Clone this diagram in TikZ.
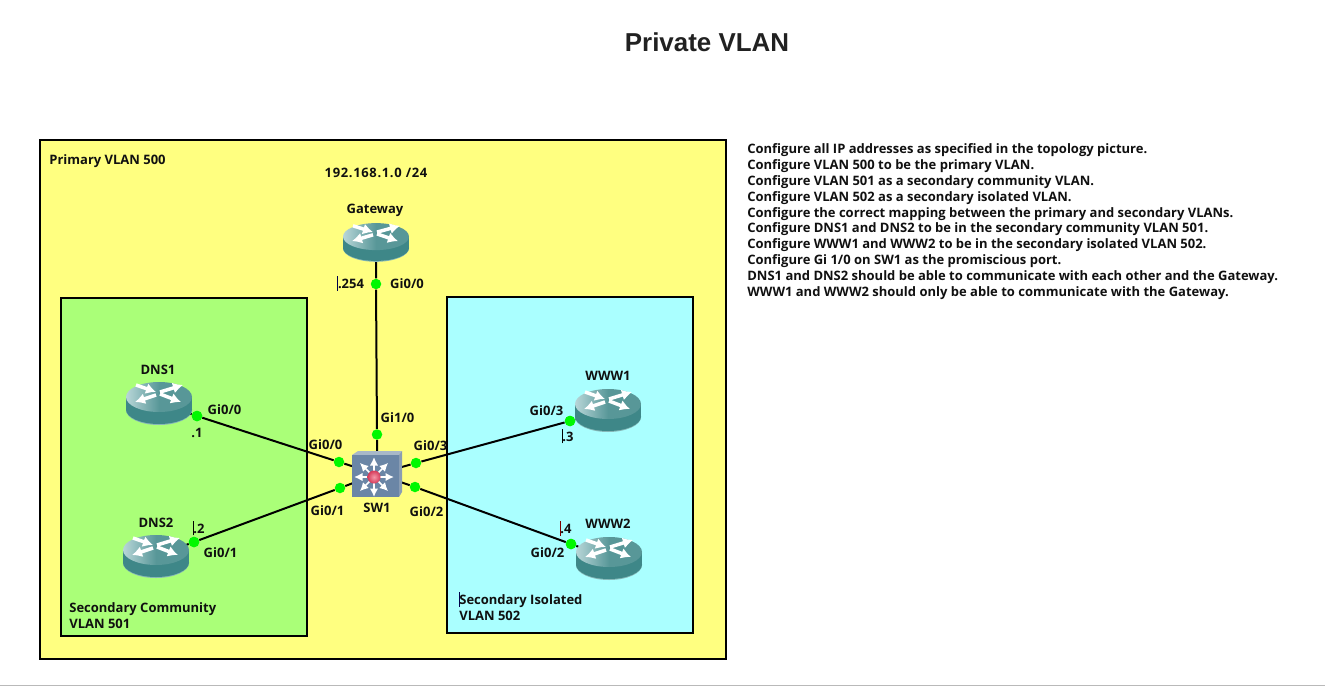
\documentclass[tikz,border=0pt]{standalone}
\usepackage{fontspec}
\setmainfont{Open Sans}
\newfontfamily\titlefont{Liberation Sans}
\usepackage{xcolor}
\usetikzlibrary{arrows.meta}
\definecolor{primaryfill}{HTML}{FFFF80}
\definecolor{communityfill}{HTML}{AAFF78}
\definecolor{isolatedfill}{HTML}{AAFFFF}
\definecolor{routertop}{HTML}{589798}
\definecolor{routerlight}{HTML}{B8D6D8}
\definecolor{routerside}{HTML}{3E8788}
\definecolor{routerrim}{HTML}{86B8B8}
\definecolor{switchfront}{HTML}{6B86A6}
\definecolor{switchtop}{HTML}{A8B8C8}
\definecolor{switchside}{HTML}{8A9DB3}
\definecolor{ballouter}{HTML}{D63A5A}
\definecolor{ballinner}{HTML}{F498A8}
\definecolor{portgreen}{HTML}{00F800}
\definecolor{textdark}{HTML}{101010}
\pgfdeclarehorizontalshading{routershade}{100bp}{color(0bp)=(routerlight); color(25bp)=(routerlight); color(50bp)=(routertop); color(100bp)=(routertop)}
\newcommand{\cursorbar}[1]{\llap{\textcolor{#1}{\rule[-1.2pt]{0.35pt}{8.5pt}}}}
\tikzset{
    vlanbox/.style={draw=black, line width=0.04cm},
    link/.style={draw=black, line width=0.04cm},
    port/.style={circle, fill=portgreen, inner sep=0pt, minimum size=0.21cm},
    anchorpt/.style={inner sep=0pt, minimum size=0pt},
    lbl/.style={font=\fontsize{7.4}{9.07}\selectfont\bfseries, text=textdark, inner sep=0pt},
    rarrow/.style={white, line width=0.07cm, -{Latex[length=0.2cm,width=0.22cm]}},
    sarrow/.style={white, line width=0.035cm, -{Latex[length=0.17cm,width=0.17cm]}},
    router/.pic={
        \fill[routerrim] (0,7) ellipse [x radius=33, y radius=15];
        \fill[routerside] (0,6.5) ellipse [x radius=33, y radius=14.5];
        \fill[routerside] (-33,-6) rectangle (33,6.5);
        \shade[shading=routershade] (0,-6) ellipse [x radius=33, y radius=15];
        \draw[rarrow] (-23,-18) -- (-3,-11);
        \draw[rarrow] (1,-11) -- (24,-18);
        \draw[rarrow] (-3,-8) -- (-24,-1);
        \draw[rarrow] (1,-9) -- (22,-1);
    },
    switchicon/.pic={
        \fill[switchtop] (-22,-22) -- (-16,-26) -- (28,-26) -- (25,-22) -- cycle;
        \fill[switchside] (25,-22) -- (28,-26) -- (28,15) -- (25,20) -- cycle;
        \fill[switchfront] (-22,-22) rectangle (25,20);
        \foreach \a in {0,45,...,315}
            \draw[sarrow] (\a:5) -- (\a:20);
        \shade[inner color=ballinner, outer color=ballouter] (0,0) circle [radius=6.5];
    },
}
\begin{document}
\begin{tikzpicture}[x=0.02cm, y=-0.02cm]
\useasboundingbox (0,0) rectangle (1325,686);
\node[font=\titlefont\fontsize{14.75}{16}\selectfont\bfseries, text=black!87, inner sep=0pt] (title) at (707,42) {Private VLAN};

% VLAN areas
\draw[vlanbox, fill=primaryfill] (40,140) rectangle (726,659);
\draw[vlanbox, fill=communityfill] (61,298) rectangle (307,636);
\draw[vlanbox, fill=isolatedfill] (447,297) rectangle (693,633);

% Devices
\node[anchorpt] (gateway) at (376,242) {};
\node[anchorpt] (dns1) at (159,403) {};
\node[anchorpt] (dns2) at (156,556) {};
\node[anchorpt] (www1) at (608,410) {};
\node[anchorpt] (www2) at (609,558) {};
\node[anchorpt] (sw1) at (377,474) {};

% Ports
\node[port] (gwport) at (376,284) {};
\node[port] (swtop) at (377,434.5) {};
\node[port] (dns1port) at (197,416) {};
\node[port] (swdns1) at (339,462) {};
\node[port] (dns2port) at (194,542) {};
\node[port] (swdns2) at (340,488) {};
\node[port] (www1port) at (570,421) {};
\node[port] (swwww1) at (416,463) {};
\node[port] (www2port) at (571,544) {};
\node[port] (swwww2) at (415,487) {};

% Links
\draw[link] (gateway) -- (gwport) -- (swtop) -- (sw1);
\draw[link] (dns1) -- (dns1port) -- (swdns1) -- (sw1);
\draw[link] (dns2) -- (dns2port) -- (swdns2) -- (sw1);
\draw[link] (www1) -- (www1port) -- (swwww1) -- (sw1);
\draw[link] (www2) -- (www2port) -- (swwww2) -- (sw1);

% Icons on top of the links
\pic[yscale=0.9] at (376,242) {router};
\pic at (159,403) {router};
\pic at (156,556) {router};
\pic at (608,410) {router};
\pic at (609,558) {router};
\pic at (374,477) {switchicon};
\node[port] at (dns1port) {};
\node[port] at (dns2port) {};
\node[port] at (www1port) {};
\node[port] at (www2port) {};

% Labels
\node[lbl, anchor=west] (primarylbl) at (49,161.5) {Primary VLAN 500};
\node[lbl] (subnet) at (376,172.5) {\addfontfeatures{LetterSpace=5}192.168.1.0 /24};
\node[lbl] (gatewaylbl) at (375,210) {Gateway};
\node[lbl] (gw254) at (351,283.5) {\cursorbar{blue!30!black}.254};
\node[lbl] (gwgi) at (407,284) {Gi0/0};
\node[lbl] (swgi10) at (397.5,417.5) {Gi1/0};
\node[lbl] (dns1lbl) at (158,370) {DNS1};
\node[lbl] (dns1gi) at (224.5,409.5) {Gi0/0};
\node[lbl] (dns1ip) at (197,432.5) {.1};
\node[lbl] (swgi00) at (325.5,445) {Gi0/0};
\node[lbl] (swgi01) at (327.5,511) {Gi0/1};
\node[lbl] (swgi03) at (430.5,446) {Gi0/3};
\node[lbl] (swgi02) at (426.5,512) {Gi0/2};
\node[lbl] (sw1lbl) at (377,507.5) {SW1};
\node[lbl] (dns2lbl) at (156,522.5) {DNS2};
\node[lbl] (dns2ip) at (199,528) {\cursorbar{black}.2};
\node[lbl] (dns2gi) at (220.5,552.5) {Gi0/1};
\node[lbl] (www1lbl) at (608,375.5) {WWW1};
\node[lbl] (www1gi) at (546.5,411) {Gi0/3};
\node[lbl] (www1ip) at (568,436) {\cursorbar{black}.3};
\node[lbl] (www2lbl) at (608,524) {WWW2};
\node[lbl] (www2gi) at (547.5,553) {Gi0/2};
\node[lbl] (www2ip) at (566,528.5) {\cursorbar{red!50!black}.4};
\node[lbl, anchor=north west, align=left] (communitylbl) at (69,602) {Secondary Community\\VLAN 501};
\node[lbl, anchor=north west, align=left] (isolatedlbl) at (459,591.5) {\cursorbar{blue!30!black}Secondary Isolated\\VLAN 502};

% Task list
\node[lbl, anchor=north west, align=left] (tasks) at (747,143) {Configure all IP addresses as specified in the topology picture.\\
Configure VLAN 500 to be the primary VLAN.\\
Configure VLAN 501 as a secondary community VLAN.\\
Configure VLAN 502 as a secondary isolated VLAN.\\
Configure the correct mapping between the primary and secondary VLANs.\\
Configure DNS1 and DNS2 to be in the secondary community VLAN 501.\\
Configure WWW1 and WWW2 to be in the secondary isolated VLAN 502.\\
Configure Gi 1/0 on SW1 as the promiscious port.\\
DNS1 and DNS2 should be able to communicate with each other and the Gateway.\\
WWW1 and WWW2 should only be able to communicate with the Gateway.};

\draw[gray!55, line width=0.03cm] (0,685.3) -- (1325,685.3);
\end{tikzpicture}
\end{document}
